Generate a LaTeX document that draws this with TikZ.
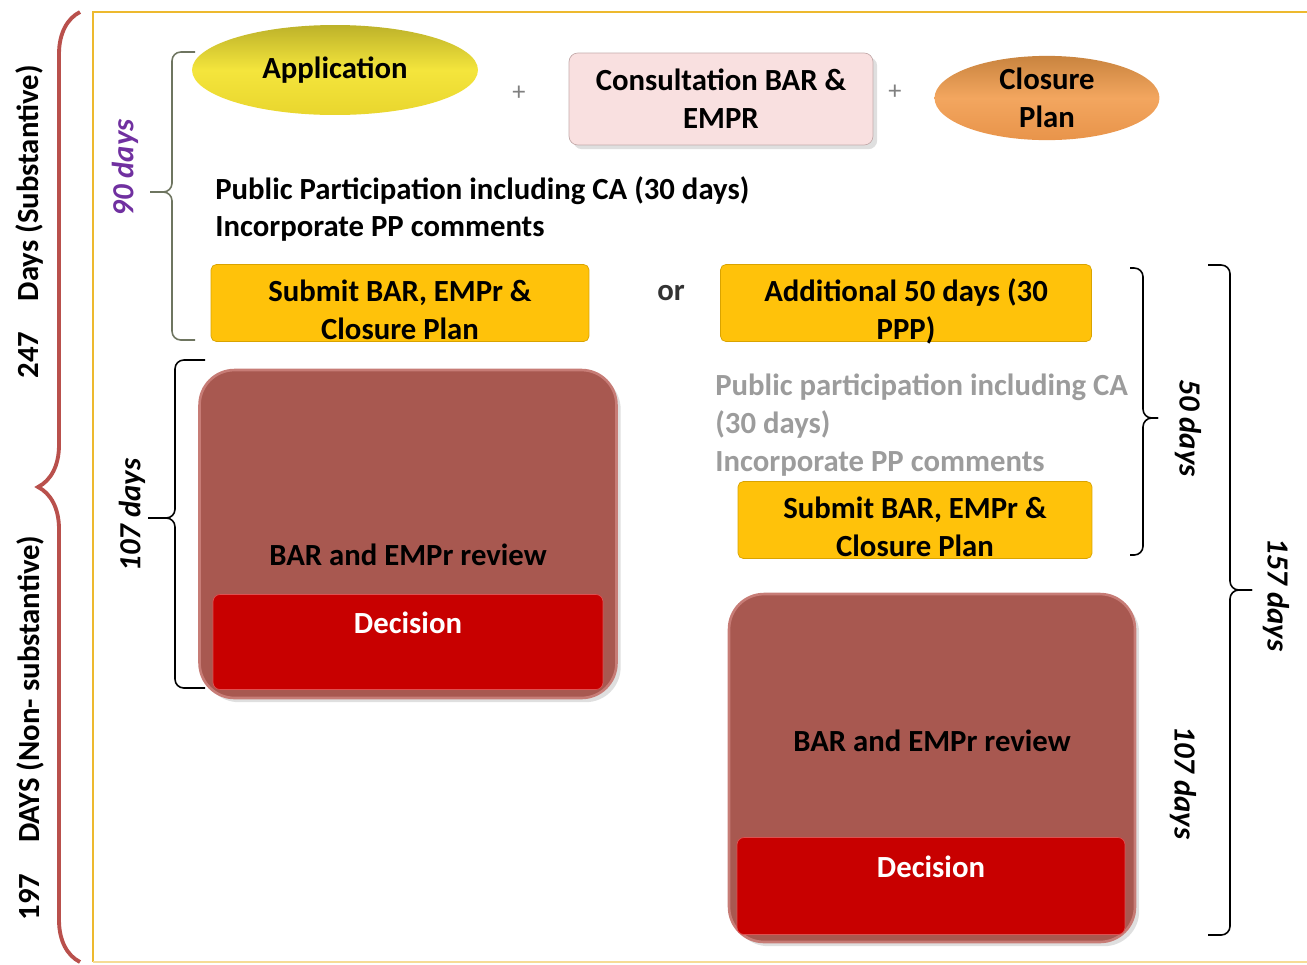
\documentclass[tikz,border=0pt]{standalone}
\usepackage{fontspec}
\setmainfont{Carlito}
\usetikzlibrary{positioning,shapes.geometric,decorations.pathreplacing,shadows}

\definecolor{frameyellow}{HTML}{EDB92E}
\definecolor{bracered}{HTML}{B9504C}
\definecolor{braceolive}{HTML}{6E7560}
\definecolor{appdark}{HTML}{BDB22A}
\definecolor{applight}{HTML}{F4E53C}
\definecolor{appmid}{HTML}{E9D62E}
\definecolor{consfill}{HTML}{F9E0E0}
\definecolor{consedge}{HTML}{C4ABAB}
\definecolor{closdark}{HTML}{C9843F}
\definecolor{closlight}{HTML}{F3A65F}
\definecolor{closmid}{HTML}{E8944A}
\definecolor{gold}{HTML}{FFC20A}
\definecolor{goldedge}{HTML}{D9A300}
\definecolor{revfill}{HTML}{A85850}
\definecolor{revedge}{HTML}{C77C76}
\definecolor{decfill}{HTML}{C80000}
\definecolor{decedge}{HTML}{E05050}
\definecolor{greytext}{HTML}{9C9C9C}
\definecolor{purpledays}{HTML}{7030A0}

\begin{document}
\begin{tikzpicture}[
  x=0.02cm,y=-0.02cm,
  every node/.style={font=\fontsize{17.5}{21.5}\selectfont\bfseries},
  pill/.style={ellipse,inner sep=0pt,align=center},
  cons/.style={draw=consedge,fill=consfill,rounded corners=5pt,align=center,drop shadow={opacity=.25}},
  button/.style={draw=goldedge,fill=gold,rounded corners=3pt,inner ysep=0pt,text height=1.5cm,text depth=0.04cm,align=center},
  review/.style={draw=revedge,line width=1.5pt,fill=revfill,rounded corners=0.7cm,inner sep=0pt,drop shadow={opacity=.25}},
  decision/.style={draw=decedge,fill=decfill,rounded corners=4pt,inner sep=0pt,text=white},
  days/.style={font=\fontsize{17.5}{21.5}\selectfont\bfseries\itshape},
  curly/.style={decorate,decoration={brace,amplitude=#1}},
  bracket/.style={rounded corners=5pt,line width=0.9pt}
  ]

  \useasboundingbox (0,0) rectangle (1307,964);

  \draw[frameyellow,line width=1.6pt] (1320,12) -- (93,12) -- (93,962);
  \draw[frameyellow!50,line width=1.6pt] (93,962) -- (1320,962);

  \coordinate (redbot) at (80,962);
  \coordinate (redtop) at (80,12);
  \draw[curly=0.84cm,bracered,line width=2.2pt] (redbot) -- (redtop);
  \node[rotate=90] (subst) at (30,222) {247\quad Days (Substantive)};
  \node[rotate=90] (nonsubst) at (30,728) {197\quad DAYS (Non- substantive)};

  \node[pill,top color=appdark,bottom color=appmid,middle color=applight,
    minimum width=5.72cm,minimum height=1.8cm] (app) at (335,70) {Application};
  \node[text=gray,font=\fontsize{15}{15}\selectfont] (plusa) at (519,93) {+};
  \node[cons,minimum width=6.08cm,minimum height=1.84cm] (consult) at (721,99) {Consultation BAR \&\\EMPR};
  \node[text=gray,font=\fontsize{15}{15}\selectfont] (plusb) at (895,92) {+};
  \node[pill,top color=closdark,bottom color=closmid,middle color=closlight,
    minimum width=4.5cm,minimum height=1.66cm] (closure) at (1047,98) {Closure\\Plan};

  \node[anchor=north west,inner sep=0pt,align=left] (pp) at (215,176)
    {Public Participation including CA (30 days)\\Incorporate PP comments};

  \node[button,minimum width=7.56cm] (submit) at (400,303) {Submit BAR, EMPr \&\\Closure Plan};
  \node[text=black!80] (or) at (671,293) {or};
  \node[button,minimum width=7.42cm] (extra) at (906,303) {Additional 50 days (30\\PPP)};

  \node[anchor=north west,inner sep=0pt,align=left,text=greytext] (ppb) at (715,374)
    {Public participation including CA\\(30 days)\\Incorporate PP comments};
  \node[button,minimum width=7.08cm] (submitb) at (915,520) {Submit BAR, EMPr \&\\Closure Plan};

  \node[review,minimum width=8.34cm,text height=3.9cm,text depth=2.66cm] (review) at (408,534) {BAR and EMPr review};
  \node[decision,minimum width=7.8cm,text height=0.78cm,text depth=1.12cm] (decide) at (408,642) {Decision};

  \node[review,minimum width=8.12cm,text height=3.14cm,text depth=3.82cm] (reviewb) at (932,768) {BAR and EMPr review};
  \node[decision,minimum width=7.76cm,text height=0.8cm,text depth=1.14cm] (decideb) at (931,886) {Decision};

  \coordinate (nintop) at (195,52);
  \coordinate (ninbot) at (195,340);
  \coordinate (nintip) at (150,192);
  \draw[bracket,braceolive] (nintop) -- (172,52) -- (172,192) -- (nintip);
  \draw[bracket,braceolive] (ninbot) -- (172,340) -- (172,192) -- (nintip);
  \node[days,text=purpledays,rotate=90] (ninety) at (125,168) {90 days};

  \coordinate (ltop) at (205,360);
  \coordinate (lbot) at (205,688);
  \coordinate (ltip) at (148,518);
  \draw[bracket] (ltop) -- (175,360) -- (175,518) -- (ltip);
  \draw[bracket] (lbot) -- (175,688) -- (175,518) -- (ltip);
  \node[days,rotate=90] (lrev) at (132,515) {107 days};

  \coordinate (ftop) at (1130,268);
  \coordinate (fbot) at (1130,555);
  \coordinate (ftip) at (1158,418);
  \draw[bracket] (ftop) -- (1143,268) -- (1143,418) -- (ftip);
  \draw[bracket] (fbot) -- (1143,555) -- (1143,418) -- (ftip);
  \node[days,rotate=-90] (fifty) at (1188,428) {50 days};

  \coordinate (ttop) at (1208,265);
  \coordinate (tbot) at (1208,935);
  \coordinate (ttip) at (1252,590);
  \draw[bracket] (ttop) -- (1230,265) -- (1230,590) -- (ttip);
  \draw[bracket] (tbot) -- (1230,935) -- (1230,590) -- (ttip);
  \node[days,rotate=-90] (total) at (1276,595) {157 days};
  \node[days,rotate=-90] (rrev) at (1183,783) {107 days};

\end{tikzpicture}
\end{document}
